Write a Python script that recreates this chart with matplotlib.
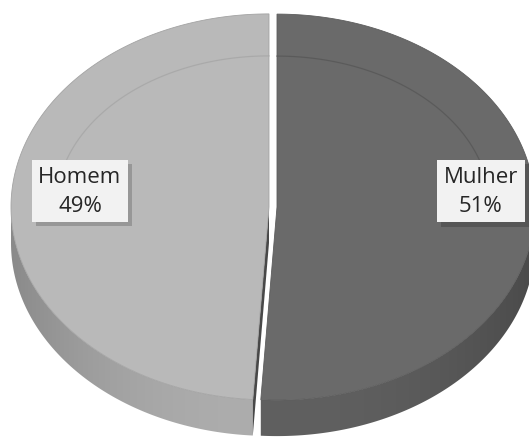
import numpy as np
import matplotlib.pyplot as plt
from matplotlib.colors import to_rgb
from matplotlib.patches import Polygon
import matplotlib.patheffects as pe

# data: clockwise from 12 o'clock, like the spreadsheet chart
labels = ['Mulher', 'Homem']
values = [51, 49]

top_colors = ['#6a6a6a', '#b9b9b9']
side_light = ['#606060', '#adadad']
side_dark = ['#4a4a4a', '#8a8a8a']
bevel_colors = ['#575757', '#a6a6a6']
label_r = [0.79, 0.733]

# pixel geometry of the tilted pie
W, H = 529, 439
CX, CY = 273, 208
RX, RY = 258, 193
DEPTH = 36
EXPLODE = 4
BEVEL_X, BEVEL_Y = 45, 42


def rim(t, ox, oy, rx=RX, ry=RY, dz=0):
    t = np.radians(np.atleast_1d(t))
    return np.column_stack([ox + rx * np.sin(t), oy - ry * np.cos(t) + dz])


def mix(c1, c2, s):
    s = np.asarray(s)[..., None]
    return np.array(to_rgb(c1)) * (1 - s) + np.array(to_rgb(c2)) * s


fig = plt.figure(figsize=(W / 100, H / 100), dpi=100)
ax = fig.add_axes([0, 0, 1, 1])
ax.set_xlim(0, W)
ax.set_ylim(H, 0)
ax.axis('off')

total = sum(values)
bounds = np.concatenate([[0], np.cumsum(values) / total * 360])

slices = []
for i in range(len(values)):
    t0, t1 = bounds[i], bounds[i + 1]
    tm = (t0 + t1) / 2
    ox = CX + EXPLODE * np.sin(np.radians(tm))
    oy = CY - EXPLODE * np.cos(np.radians(tm)) * RY / RX
    slices.append((t0, t1, tm, ox, oy))

# side walls (front half only), shaded darker toward the outer sides
xs = np.arange(W) + 0.5
for i, (t0, t1, tm, ox, oy) in enumerate(slices):
    a, b = max(t0, 90), min(t1, 270)
    if a < b:
        ts = np.linspace(a, b, 200)
        top = rim(ts, ox, oy)
        bot = rim(ts[::-1], ox, oy, dz=DEPTH)
        wall = Polygon(np.vstack([top, bot]), closed=True, facecolor='none', edgecolor='none')
        ax.add_patch(wall)
        s = np.clip(np.abs(xs - ox) / RX, 0, 1) ** 2.2
        row = mix(side_light[i], side_dark[i], s)
        img = np.repeat(row[None, :, :], H, axis=0)
        im = ax.imshow(img, extent=(0, W, H, 0), interpolation='bilinear', zorder=1)
        im.set_clip_path(wall)
    if 180 < t0 < 270:
        e = rim(t0, ox, oy)[0]
        face = [[ox, oy], e, e + [0, DEPTH], [ox, oy + DEPTH]]
        ax.add_patch(Polygon(face, closed=True, facecolor='#484848', edgecolor='none', zorder=1))

# top faces
for i, (t0, t1, tm, ox, oy) in enumerate(slices):
    arc = rim(np.linspace(t0, t1, 200), ox, oy)
    pts = np.vstack([[ox, oy], arc])
    ax.add_patch(Polygon(pts, closed=True, facecolor=top_colors[i], zorder=2,
                         edgecolor=mix(top_colors[i], '#000000', 0.12), linewidth=0.6))
    # faint bevel ring, only on the back half
    a = max(t0, 270) if t1 > 270 else t0
    b = min(t1, 90) if t0 < 90 else t1
    ring = rim(np.linspace(a, b, 100), ox, oy, RX - BEVEL_X, RY - BEVEL_Y)
    ax.plot(ring[:, 0], ring[:, 1], color=bevel_colors[i], lw=0.9, alpha=0.8, zorder=3)

# data labels, placed along each slice's bisector
for i, (t0, t1, tm, ox, oy) in enumerate(slices):
    x = ox + RX * label_r[i] * np.sin(np.radians(tm))
    txt = ax.text(x, oy - 16, f'{labels[i]}\n{values[i]}%', ha='center', va='center',
                  fontsize=16, family=['Open Sans', 'DejaVu Sans'], color='#262626',
                  linespacing=1.45, zorder=5,
                  bbox=dict(boxstyle='square,pad=0.3', facecolor='#f2f2f2', edgecolor='none'))
    txt.get_bbox_patch().set_path_effects([
        pe.SimplePatchShadow(offset=(3, -3), shadow_rgbFace='#000000', alpha=0.18),
        pe.Normal()])

fig.savefig('out.png', dpi=100)
